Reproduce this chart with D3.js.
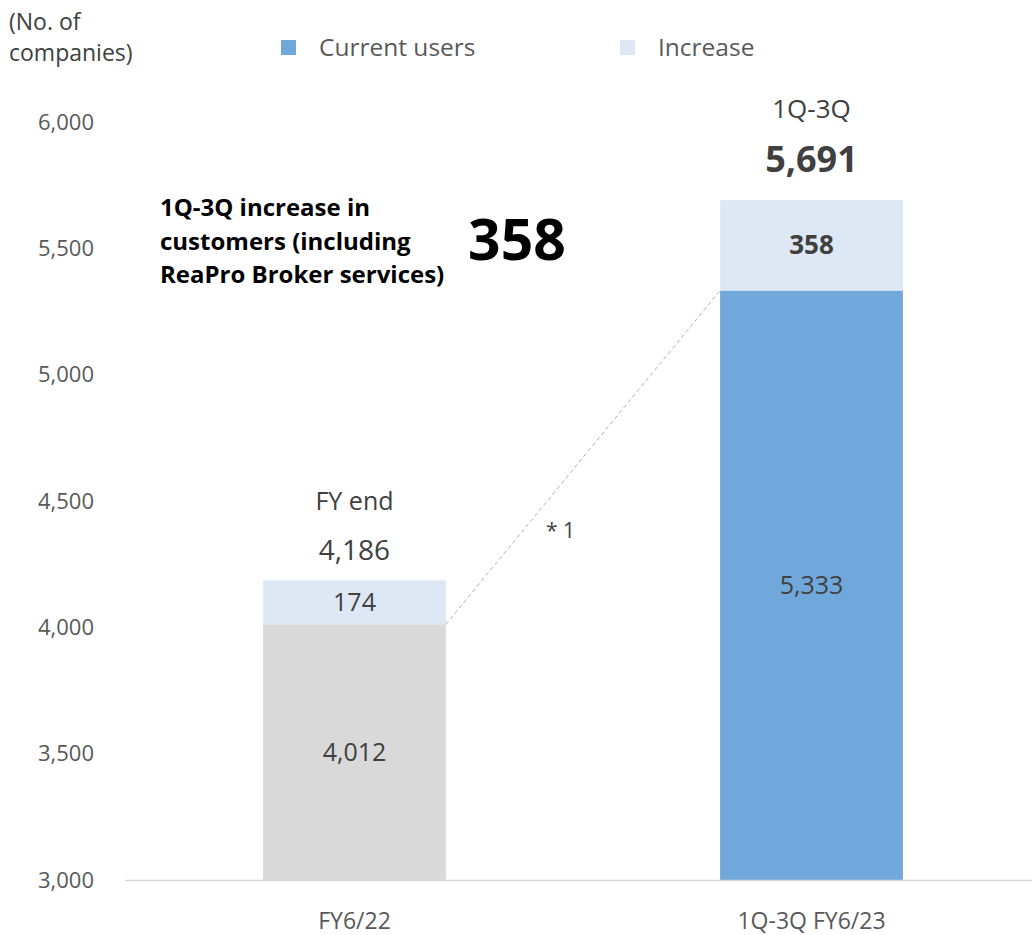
<!DOCTYPE html>
<html>
<head>
<meta charset="utf-8">
<script src="https://cdn.jsdelivr.net/npm/d3@7"></script>
<style>
  html, body { margin: 0; padding: 0; background: #fff; }
  svg { display: block; font-family: "Open Sans", "Noto Sans", sans-serif; }
</style>
</head>
<body>
<svg id="chart" width="1032" height="935"></svg>
<script>
// Customer counts (number of companies)
const categories = ["FY6/22", "1Q-3Q FY6/23"];
const baseValues = [4012, 5333];
const increaseValues = [174, 358];
const periodLabels = ["FY end", "1Q-3Q"];
const yTicks = [3000, 3500, 4000, 4500, 5000, 5500, 6000];
const legendItems = ["Current users", "Increase"];
const highlightText = ["1Q-3Q increase in", "customers (including", "ReaPro Broker services)"];
const highlightValue = 358;

const baseColors = ["#d9d9d9", "#70a8db"];
const incColor = "#dde8f4";
const textColor = "#404040";
const tickColor = "#595959";

const svg = d3.select("#chart");
const fmt = d3.format(",");

const x = d3.scaleBand().domain(categories).range([126, 1040]).paddingInner(0.6).paddingOuter(0.3);
const y = d3.scaleLinear().domain([3000, 6000]).range([880, 122]);

// y tick labels
svg.append("g").selectAll("text").data(yTicks).join("text")
  .attr("x", 94).attr("y", d => y(d)).attr("dy", "0.35em")
  .attr("text-anchor", "end").attr("font-size", 22).attr("fill", tickColor)
  .text(d => fmt(d));

// unit caption
svg.append("text").attr("x", 9).attr("y", 30).attr("font-size", 23).attr("fill", textColor).text("(No. of");
svg.append("text").attr("x", 9).attr("y", 61).attr("font-size", 23).attr("fill", textColor).text("companies)");

// legend
const legend = svg.append("g");
const legendX = [281, 620];
const legendColors = [baseColors[1], incColor];
legendItems.forEach((name, i) => {
  legend.append("rect").attr("x", legendX[i]).attr("y", 40).attr("width", 15).attr("height", 15).attr("fill", legendColors[i]);
  legend.append("text").attr("x", legendX[i] + 38).attr("y", 56).attr("font-size", 24.5).attr("fill", tickColor).text(name);
});

const bw = x.bandwidth();

// stacked bars
const bars = svg.append("g");
categories.forEach((c, i) => {
  const b = baseValues[i], inc = increaseValues[i];
  bars.append("rect").attr("x", x(c)).attr("width", bw)
    .attr("y", y(b)).attr("height", y(3000) - y(b)).attr("fill", baseColors[i]);
  bars.append("rect").attr("x", x(c)).attr("width", bw)
    .attr("y", y(b + inc)).attr("height", y(b) - y(b + inc)).attr("fill", incColor);
});

// baseline axis
svg.append("line").attr("x1", 125).attr("x2", 1032).attr("y1", y(3000) + 0.5).attr("y2", y(3000) + 0.5)
  .attr("stroke", "#d9d9d9").attr("stroke-width", 1.5);

// category labels
svg.append("g").selectAll("text").data(categories).join("text")
  .attr("x", d => x(d) + bw / 2).attr("y", 929)
  .attr("text-anchor", "middle").attr("fill", tickColor)
  .attr("font-family", "'Liberation Sans Narrow', 'Open Sans', sans-serif")
  .attr("font-size", 23)
  .text(d => d);

// connector between the previous total and the new base
svg.append("line")
  .attr("x1", x(categories[0]) + bw).attr("y1", y(baseValues[0]))
  .attr("x2", x(categories[1])).attr("y2", y(baseValues[1]))
  .attr("stroke", "#b0b0b0").attr("stroke-width", 1).attr("stroke-dasharray", "4,3");
svg.append("text").attr("x", 546).attr("y", 538).attr("font-size", 21).attr("fill", textColor).text("* 1");

// value labels inside bars
categories.forEach((c, i) => {
  const cx = x(c) + bw / 2;
  const b = baseValues[i], inc = increaseValues[i];
  svg.append("text").attr("x", cx).attr("y", (y(3000) + y(b)) / 2).attr("dy", "0.35em")
    .attr("text-anchor", "middle").attr("font-size", 25).attr("fill", textColor)
    .text(fmt(b));
  svg.append("text").attr("x", cx).attr("y", (y(b) + y(b + inc)) / 2).attr("dy", "0.35em")
    .attr("text-anchor", "middle").attr("font-size", i === 1 ? 26 : 25).attr("fill", textColor)
    .attr("font-weight", i === 1 ? "bold" : "normal")
    .text(fmt(inc));
});

// period captions and totals above the bars
{
  const c0 = x(categories[0]) + bw / 2;
  const t0 = baseValues[0] + increaseValues[0];
  svg.append("text").attr("x", c0).attr("y", y(t0) - 70).attr("text-anchor", "middle")
    .attr("font-size", 25).attr("fill", textColor).text(periodLabels[0]);
  svg.append("text").attr("x", c0).attr("y", y(t0) - 20).attr("text-anchor", "middle")
    .attr("font-size", 28).attr("fill", textColor).text(fmt(t0));

  const c1 = x(categories[1]) + bw / 2;
  const t1 = baseValues[1] + increaseValues[1];
  svg.append("text").attr("x", c1).attr("y", y(t1) - 82).attr("text-anchor", "middle")
    .attr("font-size", 26).attr("fill", textColor).text(periodLabels[1]);
  svg.append("text").attr("x", c1).attr("y", y(t1) - 28).attr("text-anchor", "middle")
    .attr("font-size", 36).attr("font-weight", "bold").attr("fill", textColor).text(fmt(t1));
}

// highlighted increase callout
highlightText.forEach((t, i) => {
  svg.append("text").attr("x", 160).attr("y", 216 + i * 33.5)
    .attr("font-size", 24).attr("font-weight", "bold").attr("fill", "#000").text(t);
});
svg.append("text").attr("x", 517).attr("y", 260).attr("text-anchor", "middle")
  .attr("font-size", 57).attr("font-weight", "bold").attr("fill", "#000").text(highlightValue);
</script>
</body>
</html>
